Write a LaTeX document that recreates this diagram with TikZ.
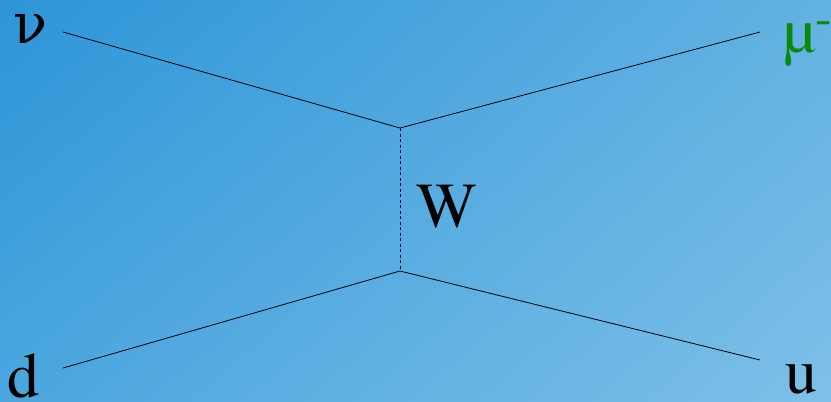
\documentclass[tikz,border=0pt]{standalone}
\usepackage{fontspec}
\setmainfont{DejaVu Serif}
\newfontfamily\termes{texgyretermes-regular.otf}
\usetikzlibrary{shadings}
\definecolor{bgTL}{HTML}{2D95D8}
\definecolor{bgTR}{HTML}{62B2E2}
\definecolor{bgBL}{HTML}{4BA6DE}
\definecolor{bgBR}{HTML}{7EC0E8}
\definecolor{mugreen}{HTML}{0A8A0A}
\begin{document}
\begin{tikzpicture}[x=1pt,y=-1pt,
  lbl/.style={inner sep=0pt,outer sep=0pt,font=\termes\fontsize{64}{64}\selectfont,anchor=base west},
  greek/.style={lbl,font=\fontsize{56}{56}\selectfont},
  fermion/.style={draw=black,line width=0.8pt},
  boson/.style={draw=black!70!blue!60!black,line width=0.8pt,dash pattern=on 3pt off 2.5pt}]
\useasboundingbox (0,0) rectangle (831,402);
\shade[upper left=bgTL,upper right=bgTR,lower left=bgBL,lower right=bgBR] (0,0) rectangle (831,402);
\coordinate (a) at (63,32);
\coordinate (b) at (760,32);
\coordinate (c) at (63,368);
\coordinate (e) at (760,360);
\coordinate (v1) at (400,128);
\coordinate (v2) at (400,271);
\draw[fermion] (a) -- (v1) -- (b);
\draw[fermion] (c) -- (v2) -- (e);
\draw[boson] (v1) -- (v2);
\node[greek] (nu) at (13,43) {ν};
\node[lbl,text=mugreen] (mu) at (783,52) {\char"00B5\raisebox{18pt}{\fontsize{50}{50}\selectfont -}};
\node[lbl] (w) at (416,227) {W};
\node[lbl] (d) at (8,397) {d};
\node[lbl] (u) at (785,393) {u};
\end{tikzpicture}
\end{document}
